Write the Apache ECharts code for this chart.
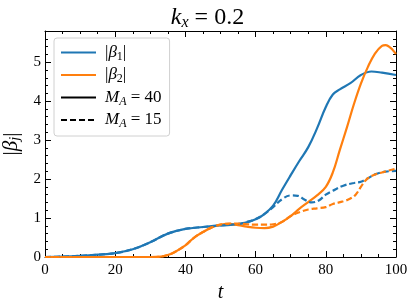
<!DOCTYPE html>
<html><head><meta charset="utf-8">
<script src="https://cdn.jsdelivr.net/npm/echarts@6/dist/echarts.min.js"></script>
<style>html,body{margin:0;padding:0;background:#fff}#c{width:415px;height:307px}</style>
</head><body><div id="c"></div>
<script>
// Data
const tB1_40 = [0,5,10,15,20,25,30,35,40,45,50,55,58,60,62,65,67.5,70,72.5,75,77.5,80,82,84,87,90,93,96,100];
const vB1_40 = [0,0.01,0.03,0.06,0.1,0.2,0.38,0.6,0.72,0.77,0.81,0.84,0.9,0.97,1.07,1.32,1.72,2.1,2.47,2.82,3.3,3.85,4.17,4.3,4.46,4.67,4.76,4.73,4.67];
const tB2_40 = [0,10,20,30,33,35,37,40,42.5,45,47.5,50,52.5,55,57.5,60,62.5,65,67.5,70,72.5,75,77.5,80,82,84,86,88,90,92,94,96,97,98,99,100];
const vB2_40 = [0,0,0,0,0.01,0.05,0.13,0.3,0.5,0.64,0.76,0.83,0.85,0.82,0.78,0.75,0.74,0.78,0.9,1.05,1.24,1.41,1.58,1.8,2.17,2.75,3.32,3.92,4.45,4.88,5.22,5.42,5.44,5.4,5.32,5.21];
const tB1_15 = [0,5,10,15,20,25,30,35,40,45,50,55,57.5,60,62.5,65,67.5,70,72,74,76,78,80,82,85,88,90,92,94,97,100];
const vB1_15 = [0,0.01,0.03,0.06,0.1,0.2,0.38,0.6,0.72,0.77,0.81,0.85,0.9,0.97,1.1,1.28,1.48,1.58,1.57,1.47,1.4,1.45,1.6,1.7,1.83,1.9,1.93,2.02,2.12,2.19,2.21];
const tB2_15 = [0,10,20,30,33,35,37,40,42.5,45,47.5,50,52.5,55,57.5,60,62.5,65,67.5,70,72.5,75,77.5,80,82,85,87,88.5,90,91.5,93.5,96,100];
const vB2_15 = [0,0,0,0,0.01,0.05,0.13,0.3,0.5,0.64,0.76,0.83,0.86,0.86,0.84,0.83,0.83,0.84,0.9,1.05,1.15,1.22,1.25,1.28,1.36,1.43,1.5,1.6,1.8,1.98,2.1,2.17,2.27];
const legendNames = ['b1','b2','m40','m15'];
const xTicks = [0,20,40,60,80,100];
const yTicks = [0,1,2,3,4,5];

const pairs = (t, v) => t.map((x, i) => [x, v[i]]);
const BLUE = '#1f77b4', ORANGE = '#ff7f0e';
const serif = 'Liberation Serif';
const rich = {
  it: {fontFamily: serif, fontStyle: 'italic', fontSize: 17, color: '#000'},
  rm: {fontFamily: serif, fontSize: 17, color: '#000'},
  sub: {fontFamily: serif, fontStyle: 'italic', fontSize: 12, color: '#000', verticalAlign: 'bottom', padding: [8,0,0,0]},
  subr: {fontFamily: serif, fontSize: 12, color: '#000', verticalAlign: 'bottom', padding: [8,0,0,0]}
};
const labelMap = {
  b1: '{rm||}{it|β}{subr|1}{rm||}',
  b2: '{rm||}{it|β}{subr|2}{rm||}',
  m40: '{it|M}{sub|A}{rm| = 40}',
  m15: '{it|M}{sub|A}{rm| = 15}'
};
function axisStyle(split) {
  return {
    axisLine: {show: true, onZero: false, lineStyle: {color: '#000', width: 1}},
    axisTick: {show: true, inside: true, length: 6, lineStyle: {color: '#000'}},
    minorTick: {show: true, splitNumber: split, length: 3, lineStyle: {color: '#000'}},
    splitLine: {show: false}
  };
}
const lab = {fontFamily: serif, fontSize: 15, color: '#000'};

const chart = echarts.init(document.getElementById('c'));
chart.setOption({
  animation: false,
  backgroundColor: '#fff',
  title: {
    text: '{it|k}{sub|x}{rm| = 0.2}',
    left: 'center', top: 0,
    textStyle: {fontWeight: 'normal', rich: {
      it: {fontFamily: serif, fontStyle: 'italic', fontWeight: 'normal', fontSize: 24, color: '#000'},
      rm: {fontFamily: serif, fontWeight: 'normal', fontSize: 24, color: '#000'},
      sub: {fontFamily: serif, fontStyle: 'italic', fontWeight: 'normal', fontSize: 16, color: '#000', verticalAlign: 'bottom', padding: [10,0,0,0]}
    }}
  },
  grid: {left: 45, right: 19, top: 31, bottom: 50, containLabel: false, outerBoundsMode: 'none'},
  legend: {
    data: legendNames,
    orient: 'vertical',
    left: 54, top: 38,
    padding: [6, 8, 6, 6],
    itemGap: 4,
    itemWidth: 35, itemHeight: 19,
    backgroundColor: '#fff',
    borderColor: '#d0d0d0', borderWidth: 1, borderRadius: 3,
    itemStyle: {opacity: 0},
    formatter: n => labelMap[n],
    textStyle: {rich: rich, padding: [0,0,0,4]}
  },
  xAxis: [
    Object.assign({type: 'value', min: 0, max: 100, interval: 20, position: 'bottom',
      axisLabel: Object.assign({margin: 6}, lab),
      name: 't', nameLocation: 'middle', nameGap: 24,
      nameTextStyle: {fontFamily: serif, fontStyle: 'italic', fontSize: 20, color: '#000'}}, axisStyle(4)),
    Object.assign({type: 'value', min: 0, max: 100, interval: 20, position: 'top',
      axisLabel: {show: false}}, axisStyle(4))
  ],
  yAxis: [
    Object.assign({type: 'value', min: 0, max: 5.8, interval: 1, position: 'left',
      axisLabel: Object.assign({margin: 4, showMaxLabel: false,
        formatter: v => (yTicks.indexOf(v) >= 0 ? String(v) : '')}, lab),
      name: '{rm||}{it|β}{sub|j}{rm||}', nameLocation: 'middle', nameGap: 21, nameRotate: 90,
      nameTextStyle: {rich: {
        it: {fontFamily: serif, fontStyle: 'italic', fontSize: 21, color: '#000'},
        rm: {fontFamily: serif, fontSize: 21, color: '#000'},
        sub: {fontFamily: serif, fontStyle: 'italic', fontSize: 14, color: '#000', verticalAlign: 'bottom', padding: [9,0,0,0]}
      }}}, axisStyle(5)),
    Object.assign({type: 'value', min: 0, max: 5.8, interval: 1, position: 'right',
      axisLabel: {show: false}}, axisStyle(5))
  ],
  series: [
    {name: 'b1', type: 'line', data: pairs(tB1_40, vB1_40), smooth: 0.4, showSymbol: false, symbol: 'none',
      color: BLUE, lineStyle: {color: BLUE, width: 2.2}, z: 3},
    {name: 'b2', type: 'line', data: pairs(tB2_40, vB2_40), smooth: 0.4, showSymbol: false, symbol: 'none',
      color: ORANGE, lineStyle: {color: ORANGE, width: 2.2}, z: 3},
    {name: 'b1_15', type: 'line', data: pairs(tB1_15, vB1_15), smooth: 0.4, showSymbol: false, symbol: 'none',
      color: BLUE, lineStyle: {color: BLUE, width: 2.2, type: [6, 3]}, z: 4},
    {name: 'b2_15', type: 'line', data: pairs(tB2_15, vB2_15), smooth: 0.4, showSymbol: false, symbol: 'none',
      color: ORANGE, lineStyle: {color: ORANGE, width: 2.2, type: [6, 3]}, z: 4},
    {name: 'm40', type: 'line', data: [], symbol: 'none', color: '#000', lineStyle: {color: '#000', width: 2.2}},
    {name: 'm15', type: 'line', data: [], symbol: 'none', color: '#000', lineStyle: {color: '#000', width: 2.2, type: [6, 3]}}
  ]
});
</script></body></html>
